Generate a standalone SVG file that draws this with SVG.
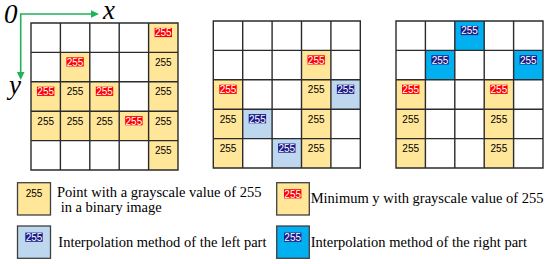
<svg xmlns="http://www.w3.org/2000/svg" width="550" height="264" viewBox="0 0 550 264">
<defs>
<style>
.bg{fill:#fff}
.y{fill:#ffe699}
.lb{fill:#bdd7ee}
.bb{fill:#00b0f0}
.gl{fill:none;stroke:#2b2b2b;stroke-width:1.4}
.n{font-family:"Liberation Sans",Arial,sans-serif;font-size:10px;text-anchor:middle;fill:#000}
.w{fill:#fff}
.rr{fill:#ff0000}
.nv{fill:#1c1c8a}
.ax{stroke:#20b35a;stroke-width:1.6;fill:none}
.ah{fill:#20b35a}
.it{font-family:"Liberation Serif","Times New Roman",serif;font-style:italic;font-size:27px;fill:#000}
.lt{font-family:"Liberation Serif","Times New Roman",serif;font-size:14.5px;fill:#000}
.lbx{stroke:#404040;stroke-width:1.3}
</style>
<path id="grid" class="gl" d="M0,0H147V147H0Z M0,29.4H147 M0,58.8H147 M0,88.2H147 M0,117.6H147 M29.4,0V147 M58.8,0V147 M88.2,0V147 M117.6,0V147"/>
</defs>
<rect width="550" height="264" fill="#fff"/>

<g id="connectors">
<path class="ax" d="M20.7,14H93 M20.7,13.2V74"/>
<path class="ah" d="M99,14L91,10.2V17.8Z"/>
<path class="ah" d="M20.7,80L16.9,72H24.5Z"/>
</g>

<g id="axis-labels">
<text class="it" x="4" y="22.5">0</text>
<text class="it" x="103" y="19" font-size="26">x</text>
<text class="it" x="9" y="94">y</text>
</g>

<g id="grid1" transform="translate(31,23)">
<rect class="bg" width="147" height="147"/>
<rect class="y" x="117.6" y="0" width="29.4" height="147"/>
<rect class="y" x="29.4" y="29.4" width="29.4" height="88.2"/>
<rect class="y" x="0" y="58.8" width="29.4" height="58.8"/>
<rect class="y" x="58.8" y="58.8" width="29.4" height="58.8"/>
<rect class="y" x="88.2" y="88.2" width="29.4" height="29.4"/>
<use href="#grid"/>
<g id="g1-r0c4"><rect class="rr" x="123.6" y="4.9" width="17.4" height="9.2"/><text class="n w" x="132.3" y="13.3">255</text></g>
<g id="g1-r1c1"><rect class="rr" x="35.4" y="34.3" width="17.4" height="9.2"/><text class="n w" x="44.1" y="42.7">255</text></g>
<g id="g1-r1c4"><text class="n" x="132.3" y="42.7">255</text></g>
<g id="g1-r2c0"><rect class="rr" x="6" y="63.7" width="17.4" height="9.2"/><text class="n w" x="14.7" y="72.1">255</text></g>
<g id="g1-r2c1"><text class="n" x="44.1" y="72.1">255</text></g>
<g id="g1-r2c2"><rect class="rr" x="64.8" y="63.7" width="17.4" height="9.2"/><text class="n w" x="73.5" y="72.1">255</text></g>
<g id="g1-r2c4"><text class="n" x="132.3" y="72.1">255</text></g>
<g id="g1-r3c0"><text class="n" x="14.7" y="101.5">255</text></g>
<g id="g1-r3c1"><text class="n" x="44.1" y="101.5">255</text></g>
<g id="g1-r3c2"><text class="n" x="73.5" y="101.5">255</text></g>
<g id="g1-r3c3"><rect class="rr" x="94.2" y="93.1" width="17.4" height="9.2"/><text class="n w" x="102.9" y="101.5">255</text></g>
<g id="g1-r3c4"><text class="n" x="132.3" y="101.5">255</text></g>
<g id="g1-r4c4"><text class="n" x="132.3" y="130.9">255</text></g>
</g>

<g id="grid2" transform="translate(213.3,21)">
<rect class="bg" width="147" height="147"/>
<rect class="y" x="88.2" y="29.4" width="29.4" height="117.6"/>
<rect class="y" x="0" y="58.8" width="29.4" height="88.2"/>
<rect class="lb" x="117.6" y="58.8" width="29.4" height="29.4"/>
<rect class="lb" x="29.4" y="88.2" width="29.4" height="29.4"/>
<rect class="lb" x="58.8" y="117.6" width="29.4" height="29.4"/>
<use href="#grid"/>
<g id="g2-r1c3"><rect class="rr" x="94.2" y="34.3" width="17.4" height="9.2"/><text class="n w" x="102.9" y="42.7">255</text></g>
<g id="g2-r2c0"><rect class="rr" x="6" y="63.7" width="17.4" height="9.2"/><text class="n w" x="14.7" y="72.1">255</text></g>
<g id="g2-r2c3"><text class="n" x="102.9" y="72.1">255</text></g>
<g id="g2-r2c4"><rect class="nv" x="123.6" y="63.7" width="17.4" height="9.2"/><text class="n w" x="132.3" y="72.1">255</text></g>
<g id="g2-r3c0"><text class="n" x="14.7" y="101.5">255</text></g>
<g id="g2-r3c1"><rect class="nv" x="35.4" y="93.1" width="17.4" height="9.2"/><text class="n w" x="44.1" y="101.5">255</text></g>
<g id="g2-r3c3"><text class="n" x="102.9" y="101.5">255</text></g>
<g id="g2-r4c0"><text class="n" x="14.7" y="130.9">255</text></g>
<g id="g2-r4c2"><rect class="nv" x="64.8" y="122.5" width="17.4" height="9.2"/><text class="n w" x="73.5" y="130.9">255</text></g>
<g id="g2-r4c3"><text class="n" x="102.9" y="130.9">255</text></g>
</g>

<g id="grid3" transform="translate(396,21)">
<rect class="bg" width="147" height="147"/>
<rect class="bb" x="58.8" y="0" width="29.4" height="29.4"/>
<rect class="bb" x="29.4" y="29.4" width="29.4" height="29.4"/>
<rect class="bb" x="117.6" y="29.4" width="29.4" height="29.4"/>
<rect class="y" x="0" y="58.8" width="29.4" height="88.2"/>
<rect class="y" x="88.2" y="58.8" width="29.4" height="88.2"/>
<use href="#grid"/>
<g id="g3-r0c2"><rect class="nv" x="64.8" y="4.9" width="17.4" height="9.2"/><text class="n w" x="73.5" y="13.3">255</text></g>
<g id="g3-r1c1"><rect class="nv" x="35.4" y="34.3" width="17.4" height="9.2"/><text class="n w" x="44.1" y="42.7">255</text></g>
<g id="g3-r1c4"><rect class="nv" x="123.6" y="34.3" width="17.4" height="9.2"/><text class="n w" x="132.3" y="42.7">255</text></g>
<g id="g3-r2c0"><rect class="rr" x="6" y="63.7" width="17.4" height="9.2"/><text class="n w" x="14.7" y="72.1">255</text></g>
<g id="g3-r2c3"><rect class="rr" x="94.2" y="63.7" width="17.4" height="9.2"/><text class="n w" x="102.9" y="72.1">255</text></g>
<g id="g3-r3c0"><text class="n" x="14.7" y="101.5">255</text></g>
<g id="g3-r3c3"><text class="n" x="102.9" y="101.5">255</text></g>
<g id="g3-r4c0"><text class="n" x="14.7" y="130.9">255</text></g>
<g id="g3-r4c3"><text class="n" x="102.9" y="130.9">255</text></g>
</g>

<g id="legend-point">
<rect class="y lbx" x="17.5" y="182.7" width="33" height="32.3"/>
<text class="n" x="34" y="197">255</text>
<text class="lt" x="57" y="197">Point with a grayscale value of 255</text>
<text class="lt" x="57" y="212" xml:space="preserve"> in a binary image</text>
</g>
<g id="legend-miny">
<rect class="y lbx" x="276.7" y="182.7" width="32.6" height="32.3"/>
<rect class="rr" x="284" y="189.2" width="17.4" height="9.2"/>
<text class="n w" x="292.7" y="197.5">255</text>
<text class="lt" x="310.7" y="203.3">Minimum y with grayscale value of 255</text>
</g>
<g id="legend-left">
<rect class="lb lbx" x="17.5" y="226" width="33" height="32.3"/>
<rect class="nv" x="25.3" y="232.6" width="17.4" height="9.2"/>
<text class="n w" x="34" y="240.9">255</text>
<text class="lt" x="58.3" y="247.3">Interpolation method of the left part</text>
</g>
<g id="legend-right">
<rect class="bb lbx" x="276.7" y="226" width="32.6" height="32.3"/>
<rect class="nv" x="284" y="232.6" width="17.4" height="9.2"/>
<text class="n w" x="292.7" y="240.9">255</text>
<text class="lt" x="310.7" y="246.7">Interpolation method of the right part</text>
</g>
</svg>
